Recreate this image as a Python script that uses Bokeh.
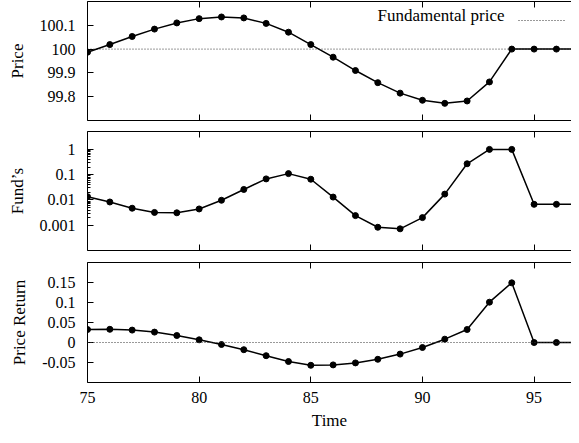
from bokeh.plotting import figure
from bokeh.layouts import column
from bokeh.models import (Range1d, FixedTicker, LinearAxis, Legend, LegendItem, Span,
                          Label, CustomLabelingPolicy)
from bokeh.embed import file_html
from bokeh.resources import INLINE

# ---- data ----
time = list(range(75, 99))
price = [99.987, 100.019, 100.053, 100.084, 100.110, 100.128, 100.135, 100.131,
         100.108, 100.071, 100.019, 99.966, 99.910, 99.859, 99.815, 99.785,
         99.772, 99.782, 99.862, 100.0, 100.0, 100.0, 100.0, 100.0]
fundamental = [100.0] * len(time)
funds_share = [0.0135, 0.0083, 0.0047, 0.0032, 0.0031, 0.0044, 0.0097, 0.026,
               0.068, 0.11, 0.066, 0.013, 0.0024, 0.00083, 0.00072, 0.002,
               0.017, 0.27, 1.0, 1.0, 0.0067, 0.0067, 0.0067, 0.0067]
price_return = [0.0325, 0.033, 0.031, 0.026, 0.0175, 0.0067, -0.005, -0.018,
                -0.033, -0.0475, -0.057, -0.056, -0.051, -0.042, -0.029, -0.0125,
                0.0083, 0.0325, 0.1008, 0.1492, 0.0, 0.0, 0.0, 0.0]
zero_level = 0.0

x_ticks = [75, 80, 85, 90, 95, 100]
price_ticks = [99.8, 99.9, 100.0, 100.1]
share_ticks = [0.001, 0.01, 0.1, 1.0]
share_minor = [m * 10.0 ** e for e in (-3, -2, -1) for m in range(2, 10)]
return_ticks = [-0.05, 0.0, 0.05, 0.1, 0.15]

FONT = "Liberation Serif"
TICK_FS = "16px"
LABEL_FS = "17px"
FIG_W = 571
LEFT = 87
X_END = 75 + (FIG_W - LEFT) / 22.33


def fmt(v):
    return f"{v:g}"


def style_axis(ax, show_labels):
    ax.axis_line_color = "black"
    ax.axis_line_width = 1
    ax.major_tick_in = 6
    ax.major_tick_out = 0
    ax.major_tick_line_color = "black"
    ax.minor_tick_line_color = None
    ax.major_label_text_font = FONT
    ax.major_label_text_color = "black"
    ax.axis_label_text_font = FONT
    ax.axis_label_text_font_size = LABEL_FS
    ax.axis_label_text_font_style = "normal"
    ax.axis_label_text_color = "black"
    if show_labels:
        ax.major_label_text_font_size = TICK_FS
    else:
        ax.major_label_text_font_size = "0px"
        ax.major_label_standoff = 0
        ax.major_label_policy = CustomLabelingPolicy(code="return new Set()")


def make_panel(height, y_range, y_type, border_top, border_bottom, show_x_labels):
    p = figure(width=FIG_W, height=height, x_range=Range1d(75, X_END), y_range=y_range,
               y_axis_type=y_type, output_backend="svg", toolbar_location=None,
               min_border_left=LEFT, min_border_right=0, min_border_top=border_top,
               min_border_bottom=border_bottom)
    p.outline_line_color = None
    p.grid.visible = False
    p.background_fill_color = "white"
    p.border_fill_color = "white"
    bottom_axis = p.below[0]
    bottom_axis.ticker = FixedTicker(ticks=x_ticks)
    style_axis(bottom_axis, show_x_labels)
    top_axis = LinearAxis(ticker=FixedTicker(ticks=x_ticks))
    style_axis(top_axis, False)
    p.add_layout(top_axis, "above")
    style_axis(p.left[0], True)
    p.left[0].major_label_standoff = 12
    return p


# ---- panel 1: price ----
p1 = make_panel(125, Range1d(99.7, 100.2), "linear", 1, 5, False)
p1.left[0].ticker = FixedTicker(ticks=price_ticks)
p1.left[0].major_label_overrides = {v: fmt(v) for v in price_ticks}
p1.left[0].axis_label = "Price"
p1.left[0].axis_label_standoff = 10
fund = p1.line(time, fundamental, line_color="#333333", line_width=1, line_dash="1 2")
p1.line(time, price, line_color="black", line_width=1.5)
p1.scatter(time, price, size=6, color="black")
legend = Legend(items=[LegendItem(label=" ", renderers=[fund])],
                location=(431, 92), glyph_width=48, glyph_height=16, label_height=16,
                label_width=1, label_standoff=0, padding=0, margin=0, spacing=0,
                border_line_color=None, background_fill_alpha=0,
                label_text_font=FONT, label_text_font_size=LABEL_FS,
                label_text_color="black")
p1.add_layout(legend)
p1.add_layout(Label(x=417, y=105, x_units="screen", y_units="screen",
                    text="Fundamental price", text_align="right", text_baseline="middle",
                    text_font=FONT, text_font_size=LABEL_FS, text_color="black"))

# ---- panel 2: fund's share (log) ----
p2 = make_panel(130, Range1d(1e-4, 5.1), "log", 6, 5, False)
p2.left[0].ticker = FixedTicker(ticks=share_ticks, minor_ticks=share_minor)
p2.left[0].major_label_overrides = {v: fmt(v) for v in share_ticks}
p2.left[0].minor_tick_line_color = "black"
p2.left[0].minor_tick_in = 3
p2.left[0].minor_tick_out = 0
p2.left[0].axis_label = "Fund\u2019s"
p2.left[0].axis_label_standoff = 10
p2.line(time, funds_share, line_color="black", line_width=1.5)
p2.scatter(time, funds_share, size=6, color="black")

# ---- panel 3: price return ----
p3 = make_panel(178, Range1d(-0.1, 0.2), "linear", 7, 51, True)
p3.below[0].major_label_standoff = 9
p3.below[0].axis_label = "Time"
p3.below[0].axis_label_standoff = 5
p3.left[0].ticker = FixedTicker(ticks=return_ticks)
p3.left[0].major_label_overrides = {v: fmt(v) for v in return_ticks}
p3.left[0].axis_label = "Price Return"
p3.left[0].axis_label_standoff = 10
p3.add_layout(Span(location=zero_level, dimension="width", line_color="#333333",
                   line_width=1, line_dash="1 2"))
p3.line(time, price_return, line_color="black", line_width=1.5)
p3.scatter(time, price_return, size=6, color="black")

layout = column(p1, p2, p3, spacing=0)
open("out.html", "w").write(file_html(layout, INLINE))
